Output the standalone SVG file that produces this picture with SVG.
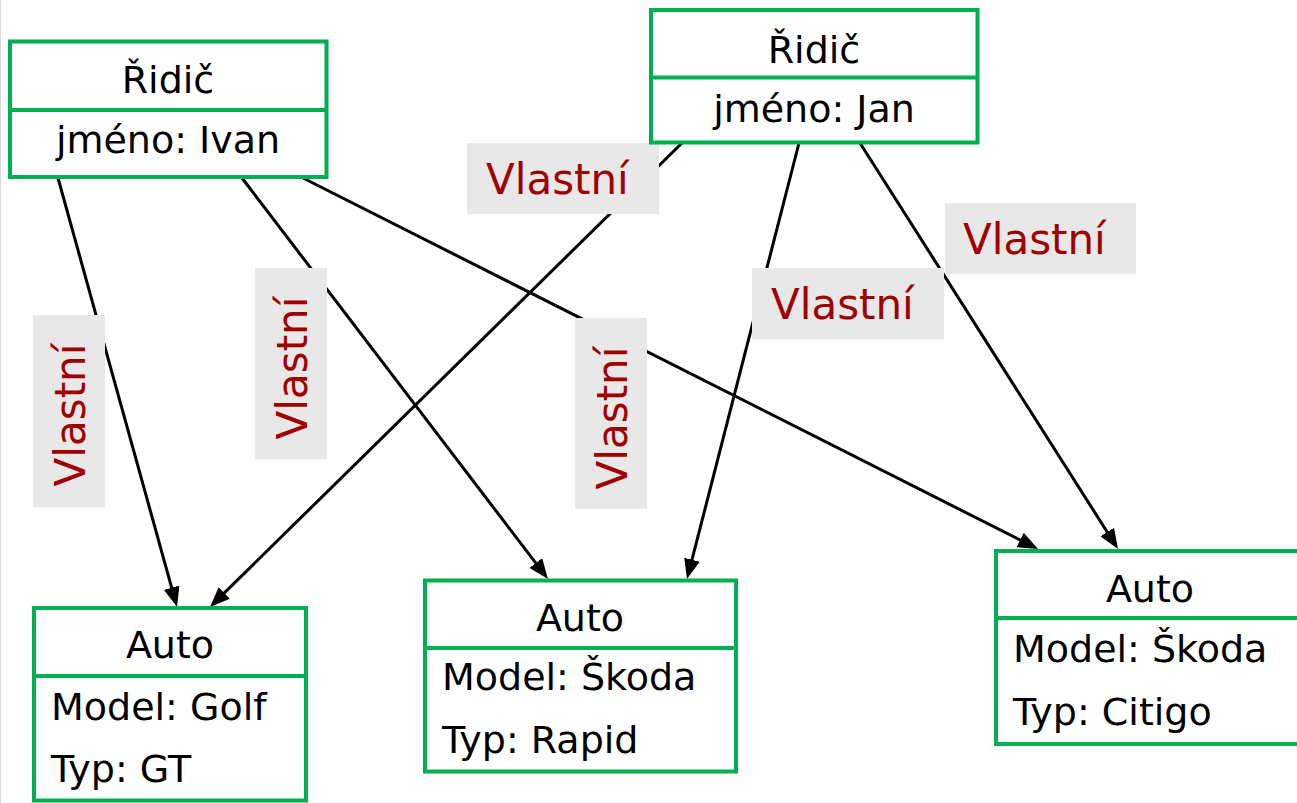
<svg xmlns="http://www.w3.org/2000/svg" width="1297" height="803" viewBox="0 0 1297 803">
  <style>
    .box { fill: #ffffff; stroke: #00B050; stroke-width: 4; }
    .div { stroke: #00B050; stroke-width: 4; }
    .t { font-family: "DejaVu Sans", Verdana, sans-serif; font-size: 38px; fill: #000000; }
    .mid { text-anchor: middle; }
    .conn { stroke: #000000; stroke-width: 3; fill: none; marker-end: url(#arrow); }
    .lbg { fill: #E8E8E8; }
    .lt { font-family: "DejaVu Sans", Verdana, sans-serif; font-size: 42px; fill: #A00000; }
  </style>
  <defs>
    <marker id="arrow" markerUnits="userSpaceOnUse" markerWidth="20" markerHeight="16" refX="12" refY="8" orient="auto">
      <path d="M0,0 L20,8 L0,16 z" fill="#000000"/>
    </marker>
  </defs>
  <rect x="0" y="0" width="1297" height="803" fill="#ffffff"/>
  <line x1="0.5" y1="0" x2="0.5" y2="803" stroke="#D9D9D9" stroke-width="1"/>

  <g id="connectors">
    <line class="conn" x1="58" y1="178" x2="174.9" y2="599.3"/>
    <line class="conn" x1="682" y1="143" x2="215.7" y2="601.4"/>
    <line class="conn" x1="242" y1="178" x2="543.1" y2="572.6"/>
    <line class="conn" x1="799" y1="143" x2="689.0" y2="571.3"/>
    <line class="conn" x1="303" y1="178" x2="1030.9" y2="545.4"/>
    <line class="conn" x1="860" y1="143" x2="1113.7" y2="542.2"/>
    <g id="labels">
      <rect class="lbg" x="467" y="143" width="192" height="71"/>
      <text class="lt" x="486" y="194">Vlastní</text>
      <rect class="lbg" x="752" y="268" width="192" height="71"/>
      <text class="lt" x="771" y="319">Vlastní</text>
      <rect class="lbg" x="945" y="203" width="191" height="71"/>
      <text class="lt" x="963" y="254">Vlastní</text>
      <rect class="lbg" x="33" y="315" width="72" height="192"/>
      <text class="lt mid" transform="translate(85,415) rotate(-90)">Vlastní</text>
      <rect class="lbg" x="255" y="268" width="72" height="191"/>
      <text class="lt mid" transform="translate(307,368) rotate(-90)">Vlastní</text>
      <rect class="lbg" x="575" y="318" width="72" height="191"/>
      <text class="lt mid" transform="translate(627,418) rotate(-90)">Vlastní</text>
    </g>
  </g>

  <g id="ridic-ivan">
    <rect class="box" x="10" y="41.5" width="316.5" height="135.5"/>
    <line class="div" x1="10" y1="110" x2="326.5" y2="110"/>
    <text class="t mid" x="168" y="93">Řidič</text>
    <text class="t mid" x="168" y="153">jméno: Ivan</text>
  </g>

  <g id="ridic-jan">
    <rect class="box" x="651" y="10" width="326.5" height="132.5"/>
    <line class="div" x1="651" y1="77.5" x2="977.5" y2="77.5"/>
    <text class="t mid" x="814" y="63">Řidič</text>
    <text class="t mid" x="814" y="122">jméno: Jan</text>
  </g>

  <g id="auto-golf">
    <rect class="box" x="34" y="608" width="272" height="192.5"/>
    <line class="div" x1="34" y1="676" x2="306" y2="676"/>
    <text class="t mid" x="170" y="658">Auto</text>
    <text class="t" x="51" y="720">Model: Golf</text>
    <text class="t" x="51" y="782">Typ: GT</text>
  </g>

  <g id="auto-rapid">
    <rect class="box" x="425" y="580.5" width="311" height="191"/>
    <line class="div" x1="425" y1="648" x2="736" y2="648"/>
    <text class="t mid" x="580" y="631">Auto</text>
    <text class="t" x="442" y="690">Model: Škoda</text>
    <text class="t" x="442" y="753">Typ: Rapid</text>
  </g>

  <g id="auto-citigo">
    <rect class="box" x="996" y="551" width="310" height="193"/>
    <line class="div" x1="996" y1="618" x2="1306" y2="618"/>
    <text class="t mid" x="1150" y="602">Auto</text>
    <text class="t" x="1013" y="662">Model: Škoda</text>
    <text class="t" x="1013" y="725">Typ: Citigo</text>
  </g>
</svg>
